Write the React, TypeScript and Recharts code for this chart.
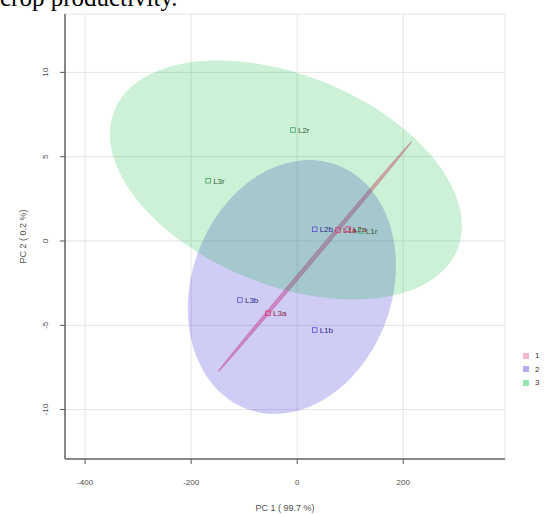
import React from 'react';
import { ScatterChart, Scatter, XAxis, YAxis, CartesianGrid } from 'recharts';

// groups and their colours
const groups = ['1', '2', '3'];
const groupFill = ['#F0457A', '#3F35D6', '#00BA38'];
const groupFillOpacity = [0.5, 0.25, 0.2];
const groupMarker = ['#E0306A', '#5A50D0', '#3AA55A'];
const groupText = ['#8B1A3A', '#2A2A8A', '#2F5F3A'];

// samples (PCA scores)
const sampleNames = ['L3a', 'L1a', 'L2a', 'L3b', 'L1b', 'L2b', 'L2r', 'L3r', 'L1r'];
const sampleGroup = [0, 0, 0, 1, 1, 1, 2, 2, 2];
const pc1 = [-55, 77, 96, -108, 33, 33, -8, -168, 120];
const pc2 = [-4.29, 0.65, 0.7, -3.5, -5.28, 0.69, 6.58, 3.57, 0.6];

// confidence ellipse per group: centre, major and minor semi-axis vectors (data units)
const ellipseCentreX = [33.4, -10, -21.3];
const ellipseCentreY = [-0.93, -2.73, 3.62];
const ellipseMajorX = [182.5, 84, 323.6];
const ellipseMajorY = [6.82, 7.25, -4.12];
const ellipseMinorX = [2.9, 177.4, -74.3];
const ellipseMinorY = [-0.077, -2.03, -5.77];

const xTicks = [-400, -200, 0, 200];
const yTicks = [-10, -5, 0, 5, 10];
const xDomain = [-438, 392];
const yDomain = [-12.93, 13.46];

const SEGMENTS = 90;

const ellipsePoints = (g: number) =>
  Array.from({ length: SEGMENTS }, (_, i) => {
    const t = (i / SEGMENTS) * Math.PI * 2;
    return {
      x: ellipseCentreX[g] + ellipseMajorX[g] * Math.cos(t) + ellipseMinorX[g] * Math.sin(t),
      y: ellipseCentreY[g] + ellipseMajorY[g] * Math.cos(t) + ellipseMinorY[g] * Math.sin(t),
    };
  });

const samples = sampleNames.map((name, i) => ({
  x: pc1[i],
  y: pc2[i],
  name,
  g: sampleGroup[i],
}));

const ellipsePath = (g: number) => (props: any) => {
  const pts = (props.points || []) as { x: number; y: number }[];
  if (!pts.length) return <g />;
  const d = pts.map((p, i) => `${i === 0 ? 'M' : 'L'}${p.x},${p.y}`).join(' ') + ' Z';
  return (
    <path
      d={d}
      fill={groupFill[g]}
      fillOpacity={groupFillOpacity[g]}
      stroke={g === 0 ? groupFill[g] : 'none'}
      strokeOpacity={0.45}
      strokeWidth={0.8}
    />
  );
};

const SampleMarker = (props: any) => {
  const { cx, cy, payload } = props;
  const g = payload.g;
  return (
    <g>
      <rect
        x={cx - 2.3}
        y={cy - 2.3}
        width={4.6}
        height={4.6}
        fill="none"
        stroke={groupMarker[g]}
        strokeWidth={0.8}
      />
      <text
        x={cx + 5}
        y={cy + 2.8}
        fontSize={8}
        fontFamily="Liberation Sans, Arial, sans-serif"
        fill={groupText[g]}
      >
        {payload.name}
      </text>
    </g>
  );
};

const YTick = (props: any) => {
  const { x, y, payload } = props;
  return (
    <text
      x={x}
      y={y}
      transform={`rotate(-90 ${x} ${y})`}
      textAnchor="middle"
      fontSize={8}
      fontFamily="Liberation Sans, Arial, sans-serif"
      fill="#4d4d4d"
    >
      {payload.value}
    </text>
  );
};

const App = () => {
  return (
    <div style={{ position: 'absolute', left: 0, top: 0, width: 545, height: 514, overflow: 'hidden' }}>
      <div
        style={{
          position: 'absolute',
          left: 0,
          top: -15,
          fontFamily: 'Liberation Serif, Times New Roman, serif',
          fontSize: 25,
          lineHeight: '25px',
          color: '#000',
          whiteSpace: 'nowrap',
        }}
      >
        crop productivity.
      </div>
      <ScatterChart width={545} height={514} margin={{ top: 14, right: 40, bottom: 0, left: 0 }}>
        <CartesianGrid stroke="#e4e4e4" strokeWidth={1} />
        <XAxis
          xAxisId="top"
          orientation="top"
          type="number"
          dataKey="x"
          domain={xDomain}
          allowDataOverflow
          height={0}
          tick={false}
          tickLine={false}
          axisLine={{ stroke: '#a6a6a6', strokeWidth: 1.5 }}
        />
        <YAxis
          yAxisId="right"
          orientation="right"
          type="number"
          dataKey="y"
          domain={yDomain}
          allowDataOverflow
          width={0}
          tick={false}
          tickLine={false}
          axisLine={{ stroke: '#a6a6a6', strokeWidth: 1.5 }}
        />
        <XAxis
          type="number"
          dataKey="x"
          domain={xDomain}
          ticks={xTicks}
          allowDataOverflow
          height={55}
          tickSize={5}
          tickMargin={15}
          tick={{ fontSize: 8, fill: '#4d4d4d', fontFamily: 'Liberation Sans, Arial, sans-serif' }}
          tickLine={{ stroke: '#555' }}
          axisLine={{ stroke: '#666', strokeWidth: 1.5 }}
          label={(p: any) => {
            const vb = p.viewBox;
            return (
              <text
                x={vb.x + vb.width / 2}
                y={vb.y + 52}
                textAnchor="middle"
                fontSize={9}
                fontFamily="Liberation Sans, Arial, sans-serif"
                fill="#4d4d4d"
              >
                PC 1 ( 99.7 %)
              </text>
            );
          }}
        />
        <YAxis
          type="number"
          dataKey="y"
          domain={yDomain}
          ticks={yTicks}
          allowDataOverflow
          width={65}
          tickSize={5}
          tickMargin={12}
          tick={<YTick />}
          tickLine={{ stroke: '#555' }}
          axisLine={{ stroke: '#666', strokeWidth: 1.5 }}
          label={(p: any) => {
            const vb = p.viewBox;
            const cx = 26;
            const cy = vb.y + vb.height / 2;
            return (
              <text
                x={cx}
                y={cy}
                transform={`rotate(-90 ${cx} ${cy})`}
                textAnchor="middle"
                fontSize={9}
                fontFamily="Liberation Sans, Arial, sans-serif"
                fill="#4d4d4d"
              >
                PC 2 ( 0.2 %)
              </text>
            );
          }}
        />
        {groups.map((name, g) => (
          <Scatter
            key={`ellipse-${name}`}
            name={`ellipse ${name}`}
            data={ellipsePoints(g)}
            line={ellipsePath(g)}
            lineType="joint"
            shape={() => <g />}
            legendType="none"
            isAnimationActive={false}
          />
        ))}
        <Scatter data={samples} shape={<SampleMarker />} isAnimationActive={false} />
      </ScatterChart>
      <div
        style={{
          position: 'absolute',
          left: 523,
          top: 349,
          fontFamily: 'Liberation Sans, Arial, sans-serif',
          fontSize: 8,
          color: '#333',
        }}
      >
        {groups.map((name, g) => (
          <div key={name} style={{ display: 'flex', alignItems: 'center', height: 13.5 }}>
            <span
              style={{
                display: 'inline-block',
                width: 6,
                height: 6,
                background: groupFill[g],
                opacity: 0.4,
                marginRight: 6,
              }}
            />
            <span>{name}</span>
          </div>
        ))}
      </div>
    </div>
  );
};

export default App;
